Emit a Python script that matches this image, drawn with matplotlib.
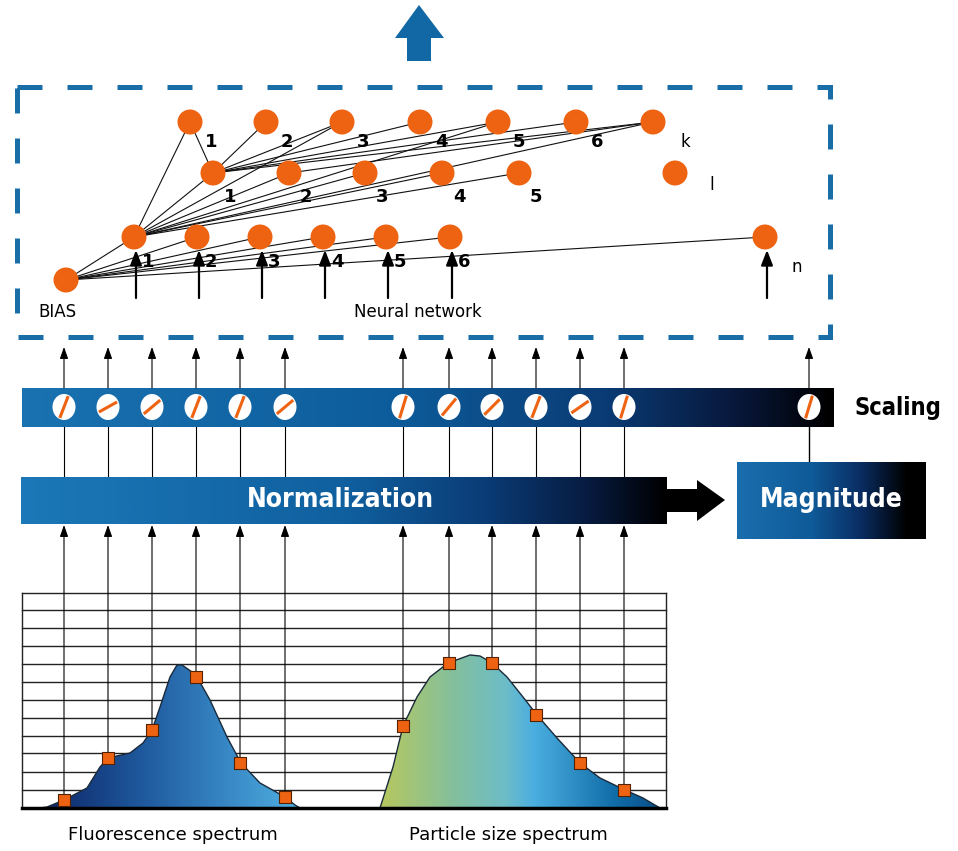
import numpy as np
import matplotlib
matplotlib.use("Agg")
import matplotlib.pyplot as plt
from matplotlib.patches import Polygon, Rectangle, Ellipse, Circle
from matplotlib.colors import LinearSegmentedColormap

# ---------------- data ----------------
k_x = [190, 266, 342, 420, 498, 576, 653]
k_y = 122
k_labels = ["1", "2", "3", "4", "5", "6", "k"]
l_x = [213, 289, 365, 442, 519, 675]
l_y = 173
l_labels = ["1", "2", "3", "4", "5", "l"]
n_x = [134, 197, 260, 323, 386, 450, 765]
n_y = 237
n_labels = ["1", "2", "3", "4", "5", "6", "n"]
bias_xy = (66, 280)

edges = ([("b", ("n", i)) for i in range(7)] +
         [(("n", 0), ("k", 0))] +
         [(("n", 0), ("l", i)) for i in range(5)] +
         [(("n", 0), ("k", i)) for i in (2, 4, 6)] +
         [(("l", 0), ("k", i)) for i in range(7)] +
         [(("l", 1), ("k", 6))])

fluo_x = [64, 108, 152, 196, 240, 285]
fluo_y = [800, 758, 730, 677, 763, 797]
part_x = [403, 449, 492, 536, 580, 624]
part_y = [726, 663, 663, 715, 763, 790]
mag_x = 809
slash_angles = [65, 25, 35, 65, 65, 35, 70, 45, 40, 65, 30, 70, 70]

fluo_curve_x = [40, 47, 64, 87, 100, 108, 130, 143, 152, 160, 170, 177, 182, 192, 197, 210, 227, 241, 260, 285, 295, 300]
fluo_curve_y = [808, 807, 800, 788, 767, 758, 753, 743, 730, 707, 677, 665, 665, 672, 677, 700, 737, 763, 783, 797, 805, 808]
part_curve_x = [380, 393, 403, 417, 430, 448, 470, 480, 492, 507, 523, 537, 557, 580, 600, 625, 643, 660]
part_curve_y = [808, 767, 726, 697, 677, 663, 655, 656, 663, 677, 697, 715, 738, 763, 778, 790, 798, 808]

grid_rows = [593, 610, 628, 646, 664, 682, 700, 718, 736, 753, 772, 790, 808]

ORANGE = "#ee6312"
BLUE = "#1168a5"

fig = plt.figure(figsize=(9.58, 8.51), dpi=100)
ax = fig.add_axes([0, 0, 1, 1])
ax.set_xlim(0, 958)
ax.set_ylim(851, 0)
ax.axis("off")


def hgrad(x0, x1, y0, y1, colors, stops, z=1, clip=None):
    cmap = LinearSegmentedColormap.from_list("g", list(zip(stops, colors)))
    g = np.linspace(0, 1, 256).reshape(1, -1)
    im = ax.imshow(g, cmap=cmap, extent=(x0, x1, y1, y0), aspect="auto",
                   interpolation="bicubic", zorder=z)
    if clip is not None:
        im.set_clip_path(clip)
    return im


# ---------------- top arrow ----------------
ax.add_patch(Polygon([(407, 61), (407, 38), (395, 38), (419, 5), (444, 38),
                      (431, 38), (431, 61)], closed=True, color=BLUE, lw=0))

# ---------------- dashed box ----------------
ax.add_patch(Rectangle((17, 87), 813, 250, fill=False, edgecolor="#1a6ea8",
                       lw=3.6, linestyle=(0, (5, 5)), zorder=2))

# ---------------- network ----------------
pos = {"b": bias_xy}
for i, x in enumerate(k_x):
    pos[("k", i)] = (x, k_y)
for i, x in enumerate(l_x):
    pos[("l", i)] = (x, l_y)
for i, x in enumerate(n_x):
    pos[("n", i)] = (x, n_y)

for a, b in edges:
    (x0, y0), (x1, y1) = pos[a], pos[b]
    ax.plot([x0, x1], [y0, y1], color="#111111", lw=0.8, zorder=3)

for key, (x, y) in pos.items():
    ax.add_patch(Circle((x, y), 12.5, color=ORANGE, lw=0, zorder=4))

for i, x in enumerate(k_x):
    if k_labels[i] == "k":
        ax.text(x + 32, k_y + 20, "k", fontsize=12, ha="center", va="center")
    else:
        ax.text(x + 21, k_y + 20, k_labels[i], fontsize=13, weight="bold",
                ha="center", va="center")
for i, x in enumerate(l_x):
    if l_labels[i] == "l":
        ax.text(x + 37, l_y + 12, "l", fontsize=12, ha="center", va="center")
    else:
        ax.text(x + 17, l_y + 24, l_labels[i], fontsize=13, weight="bold",
                ha="center", va="center")
for i, x in enumerate(n_x):
    if n_labels[i] == "n":
        ax.text(x + 32, n_y + 30, "n", fontsize=12, ha="center", va="center")
    else:
        ax.text(x + 14, n_y + 25, n_labels[i], fontsize=13, weight="bold",
                ha="center", va="center", zorder=5)
    ax.annotate("", xy=(x + 2, n_y + 13), xytext=(x + 2, 298),
                arrowprops=dict(arrowstyle="-|>,head_length=0.9,head_width=0.35",
                                color="k", lw=1.6, shrinkA=0, shrinkB=0), zorder=5)

ax.text(57, 312, "BIAS", fontsize=12, ha="center", va="center")
ax.text(418, 312, "Neural network", fontsize=12, ha="center", va="center")

# ---------------- scaling bar ----------------
bar_cols = ["#1a72b0", "#0d5d9c", "#0a3b74", "#08183c", "#000000"]
hgrad(22, 834, 388, 427, bar_cols, [0, 0.45, 0.72, 0.88, 1.0])
chan_x = fluo_x + part_x + [mag_x]
for x, ang in zip(chan_x, slash_angles):
    ax.add_patch(Ellipse((x, 407), 23, 26, color="white", lw=0, zorder=3))
    t = np.deg2rad(ang)
    dx, dy = 10 * np.cos(t), 12 * np.sin(t)
    ax.plot([x - dx, x + dx], [407 + dy, 407 - dy], color=ORANGE, lw=2.2,
            solid_capstyle="butt", zorder=4)
    ax.annotate("", xy=(x, 347), xytext=(x, 388),
                arrowprops=dict(arrowstyle="-|>,head_length=0.7,head_width=0.25",
                                color="k", lw=0.8, shrinkA=0, shrinkB=0))
ax.text(898, 408, "Scaling", fontsize=17, weight="heavy", fontstretch="condensed",
        ha="center", va="center")

for x in fluo_x + part_x:
    ax.plot([x, x], [427, 477], color="k", lw=0.8, zorder=1)
ax.plot([mag_x, mag_x], [427, 462], color="k", lw=1.0, zorder=1)

# ---------------- normalization bar ----------------
norm_cols = ["#1c78b8", "#10609f", "#0a3c76", "#071b40", "#000000"]
hgrad(21, 667, 477, 524, norm_cols, [0, 0.5, 0.72, 0.88, 1.0])
ax.text(340, 500, "Normalization", fontsize=19, weight="heavy", color="white",
        fontstretch="condensed", ha="center", va="center", zorder=3)
ax.add_patch(Polygon([(666, 489), (697, 489), (697, 480), (725, 500), (697, 521),
                      (697, 512), (666, 512)], closed=True, color="black", lw=0))

# ---------------- magnitude box ----------------
mag_cols = ["#1a6ead", "#0f5a98", "#0a2e64", "#000000", "#000000"]
hgrad(737, 926, 462, 539, mag_cols, [0, 0.4, 0.65, 0.9, 1.0])
ax.text(831, 500, "Magnitude", fontsize=19, weight="heavy", color="white",
        fontstretch="condensed", ha="center", va="center", zorder=3)

# ---------------- spectrum grid ----------------
for y in grid_rows[:-1]:
    ax.plot([22, 666], [y, y], color="#222222", lw=1.0, zorder=1)
ax.plot([22, 22], [593, 808], color="#222222", lw=1.0, zorder=1)
ax.plot([666, 666], [593, 808], color="#222222", lw=1.0, zorder=1)

fluo_poly = Polygon(list(zip(fluo_curve_x, fluo_curve_y)), closed=True,
                    facecolor="none", edgecolor="#1a2a3a", lw=1.0, zorder=3)
ax.add_patch(fluo_poly)
hgrad(40, 300, 650, 810, ["#0c2466", "#1f5a9e", "#3a8cc8", "#4fb0e0"],
      [0, 0.4, 0.75, 1.0], z=2, clip=fluo_poly)

part_poly = Polygon(list(zip(part_curve_x, part_curve_y)), closed=True,
                    facecolor="none", edgecolor="#1a2a3a", lw=1.0, zorder=3)
ax.add_patch(part_poly)
hgrad(380, 660, 650, 810, ["#b7c85e", "#86c09a", "#6cbcc8", "#4aaee0", "#0f6aa6", "#0b4f88"],
      [0, 0.25, 0.45, 0.55, 0.85, 1.0], z=2, clip=part_poly)

ax.plot([22, 666], [808, 808], color="black", lw=2.5, zorder=4)

for xs, ys in ((fluo_x, fluo_y), (part_x, part_y)):
    for x, y in zip(xs, ys):
        ax.annotate("", xy=(x, 525), xytext=(x, y),
                    arrowprops=dict(arrowstyle="-|>,head_length=0.7,head_width=0.25",
                                    color="k", lw=0.8, shrinkA=0, shrinkB=0), zorder=2)
    ax.scatter(xs, ys, marker="s", s=75, color=ORANGE, edgecolor="#552200",
               linewidth=0.8, zorder=5)

ax.text(173, 835, "Fluorescence spectrum", fontsize=13, ha="center", va="center")
ax.text(508, 835, "Particle size spectrum", fontsize=13, ha="center", va="center")

fig.savefig("out.png", dpi=100)
